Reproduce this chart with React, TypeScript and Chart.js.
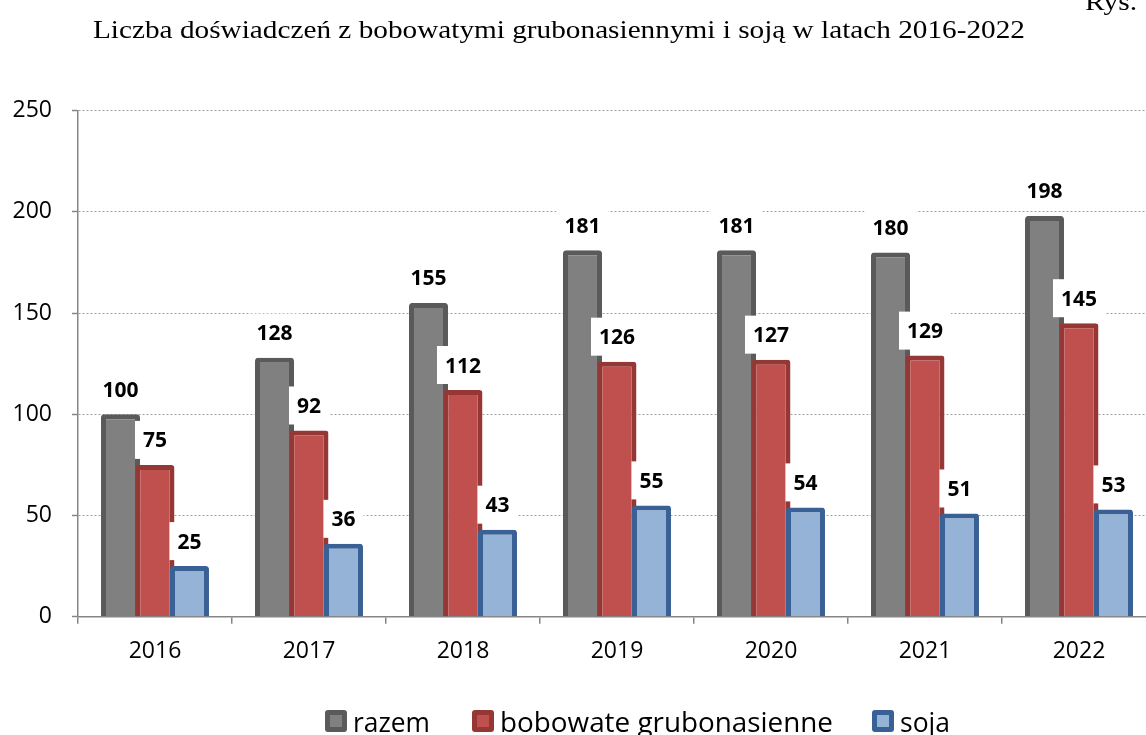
import React, { useEffect, useRef } from "react";
import { Chart, registerables } from "chart.js";

Chart.register(...registerables);

const categories = ["2016", "2017", "2018", "2019", "2020", "2021", "2022"];
const razem = [100, 128, 155, 181, 181, 180, 198];
const bobowate = [75, 92, 112, 126, 127, 129, 145];
const soja = [25, 36, 43, 55, 54, 51, 53];
const seriesNames = ["razem", "bobowate grubonasienne", "soja"];
const yMax = 250;
const yStep = 50;
const titleText = "Liczba doświadczeń z bobowatymi grubonasiennymi i soją w latach 2016-2022";
const figText = "Rys.";

const fills = ["#808080", "#C0504D", "#95B3D7"];
const borders = ["#5A5A5A", "#953735", "#3A6196"];

const W = 1170;
const H = 735;

function drawScaledText(ctx: CanvasRenderingContext2D, text: string, x: number, y: number, targetW: number) {
  const w = ctx.measureText(text).width;
  let sx = targetW / w;
  if (sx < 0.8) sx = 0.8;
  if (sx > 1.3) sx = 1.3;
  ctx.save();
  ctx.translate(x, y);
  ctx.scale(sx, 1);
  ctx.fillText(text, 0, 0);
  ctx.restore();
}

const orderPlugin = {
  id: "orderPlugin",
  beforeDatasetsDraw(chart: any) {
    const metas = chart.getSortedVisibleDatasetMetas().slice().sort((a: any, b: any) => a.index - b.index);
    metas.forEach((m: any) => m.controller.draw());
    return false;
  },
};

const decorPlugin = {
  id: "decorPlugin",
  afterDraw(chart: any) {
    const ctx: CanvasRenderingContext2D = chart.ctx;
    ctx.save();
    // data labels
    ctx.font = 'bold 21px "Open Sans"';
    ctx.textAlign = "center";
    ctx.textBaseline = "alphabetic";
    chart.data.datasets.forEach((ds: any, i: number) => {
      const meta = chart.getDatasetMeta(i);
      meta.data.forEach((el: any, j: number) => {
        const txt = String(ds.data[j]);
        const w = ctx.measureText(txt).width;
        const cy = el.y - 25;
        ctx.fillStyle = "#FFFFFF";
        ctx.fillRect(el.x - w / 2 - 8, cy - 19, w + 16, 38);
        ctx.fillStyle = "#000000";
        ctx.fillText(txt, el.x, cy + 7.5);
      });
    });
    // title
    ctx.textAlign = "left";
    ctx.fillStyle = "#000000";
    ctx.font = '26px "Liberation Serif"';
    drawScaledText(ctx, titleText, 93, 38, 932);
    drawScaledText(ctx, figText, 1085, 10, 52);
    // legend
    const boxX = [325, 472, 872];
    const textX = [353, 500, 900];
    const textW = [77, 333, 50];
    ctx.font = '28px "Open Sans"';
    for (let i = 0; i < 3; i++) {
      ctx.fillStyle = borders[i];
      ctx.beginPath();
      (ctx as any).roundRect(boxX[i], 710, 22, 22, 3);
      ctx.fill();
      ctx.fillStyle = fills[i];
      ctx.fillRect(boxX[i] + 5, 715, 12, 12);
      ctx.fillStyle = "#000000";
      drawScaledText(ctx, seriesNames[i], textX[i], 732, textW[i]);
    }
    ctx.restore();
  },
};

export default function App() {
  const ref = useRef<HTMLCanvasElement | null>(null);
  useEffect(() => {
    if (!ref.current) return;
    const datasets = [razem, bobowate, soja].map((d, i) => ({
      label: seriesNames[i],
      data: d,
      backgroundColor: fills[i],
      borderColor: borders[i],
      borderWidth: 5,
      borderRadius: 3,
      barPercentage: 1.13,
      categoryPercentage: 0.672,
    }));
    const chart = new Chart(ref.current, {
      type: "bar",
      data: { labels: categories, datasets },
      plugins: [orderPlugin, decorPlugin],
      options: {
        animation: false,
        responsive: false,
        devicePixelRatio: 1,
        layout: { padding: { top: 110.7, bottom: 73.3, left: 0, right: W - 1156 } },
        plugins: { legend: { display: false }, title: { display: false }, tooltip: { enabled: false } },
        scales: {
          x: {
            offset: true,
            afterFit: (s: any) => { s.height = 45; },
            grid: { drawOnChartArea: false, drawTicks: true, tickLength: 7, color: "#868686", lineWidth: 1.5, offset: true },
            border: { display: true, color: "#868686", width: 1.5 },
            ticks: { color: "#000000", font: { family: "Open Sans", size: 23 }, padding: 14, maxRotation: 0, autoSkip: false },
          },
          y: {
            min: 0,
            max: yMax,
            afterFit: (s: any) => { s.width = 78; },
            grid: { color: "#A0A0A0", lineWidth: 1, drawTicks: true, tickLength: 6, tickColor: "#868686", tickWidth: 1.5 },
            border: { display: true, color: "#868686", width: 1.5, dash: [2, 2] },
            ticks: { stepSize: yStep, color: "#000000", font: { family: "Open Sans", size: 23 }, padding: 20 },
          },
        },
      },
    });
    return () => chart.destroy();
  }, []);
  return (
    <div style={{ position: "fixed", left: 0, top: 0, width: 1146, height: 735, overflow: "hidden", background: "#FFFFFF" }}>
      <canvas ref={ref} width={W} height={H} style={{ width: W, height: H, display: "block" }} />
    </div>
  );
}
